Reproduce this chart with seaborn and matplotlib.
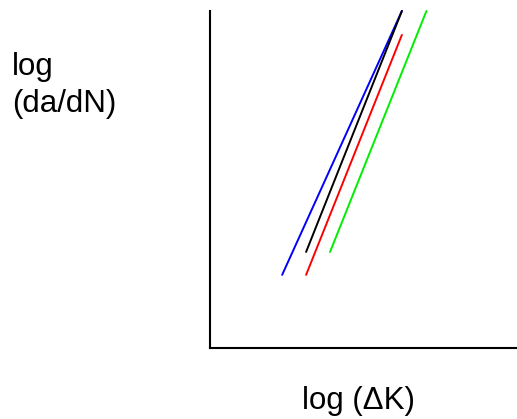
import matplotlib
matplotlib.use("Agg")
import matplotlib.pyplot as plt
import seaborn as sns
import pandas as pd

# Schematic Paris-law lines (arbitrary log units)
series = ["blue", "black", "red", "green"]
x_start = [2.35, 3.13, 3.13, 3.91]
x_end = [6.25, 6.25, 6.25, 7.05]
y_start = [2.17, 2.85, 2.17, 2.85]
y_end = [10.0, 10.0, 9.29, 10.0]
colors = {"blue": "#0000ff", "black": "#000000", "red": "#ff0000", "green": "#00ee00"}

x_label = "log (ΔK)"
y_label = "log\n(da/dN)"

rows = []
for s, x0, x1, y0, y1 in zip(series, x_start, x_end, y_start, y_end):
    rows.append({"series": s, "x": x0, "y": y0})
    rows.append({"series": s, "x": x1, "y": y1})
df = pd.DataFrame(rows)

sns.set_theme(style="white")
plt.rcParams["font.family"] = ["Liberation Sans", "DejaVu Sans"]

fig = plt.figure(figsize=(5.17, 4.19), dpi=100)
W, H = 517, 419
ax = fig.add_axes([210 / W, (H - 348) / H, (W - 210) / W, (348 - 11) / H])

sns.lineplot(data=df, x="x", y="y", hue="series", palette=colors,
             hue_order=series, legend=False, ax=ax, linewidth=1.4,
             estimator=None, sort=False)
for line in ax.get_lines():
    line.set_clip_on(False)

ax.set_xlim(0, 10)
ax.set_ylim(0, 10)
ax.set_xticks([])
ax.set_yticks([])
ax.set_xlabel("")
ax.set_ylabel("")
for side in ["top", "right"]:
    ax.spines[side].set_visible(False)
for side in ["left", "bottom"]:
    ax.spines[side].set_color("black")
    ax.spines[side].set_linewidth(1.5)

fig.text(358 / W, 1 - 386 / H, x_label, ha="center", va="top", fontsize=22.5,
         color="black")
fig.text(12 / W, 1 - 52 / H, y_label, ha="left", va="top", fontsize=22.5,
         color="black", linespacing=1.3)

fig.savefig("out.png", dpi=100)
